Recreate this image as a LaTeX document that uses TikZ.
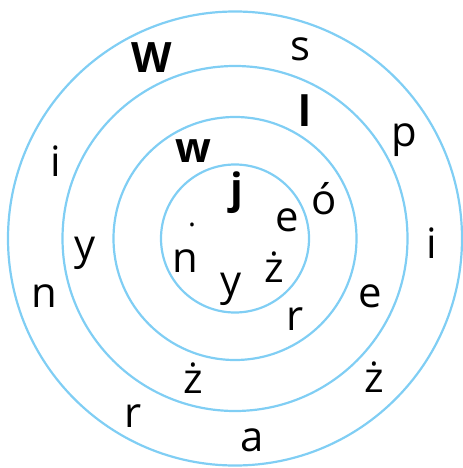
\documentclass[tikz,border=0pt]{standalone}
\usepackage{fontspec}
\setmainfont{Open Sans}
\definecolor{ringblue}{RGB}{128,206,244}
\tikzset{
    ring/.style = {
        draw=ringblue,
        line width=2.2bp
    },
    letter/.style = {
        inner sep=0pt,
        anchor=base,
        font=\fontsize{42}{42}\selectfont
    },
    bigletter/.style = {
        letter,
        font=\fontsize{42}{42}\selectfont\bfseries
    },
    dotmark/.style = {
        letter,
        font=\fontsize{30}{30}\selectfont
    }
}

\begin{document}
\begin{tikzpicture}[x=1bp, y=-1bp]
\useasboundingbox (0,0) rectangle (463,468);

% Srodek i okregi
\coordinate (srodek) at (235,238.5);
\draw [ring] (srodek) circle [radius=227bp];
\draw [ring] (srodek) circle [radius=172.5bp];
\draw [ring] (srodek) circle [radius=121.5bp];
\draw [ring] (srodek) circle [radius=74bp];

% Pierscien zewnetrzny
\node (zW) [bigletter] at (152,73) {W};
\node (zs) [letter] at (300,61) {s};
\node (zp) [letter] at (404,147) {p};
\node (zi1) [letter] at (432,258) {i};
\node (zz) [letter] at (374,392) {ż};
\node (za) [letter] at (252,451) {a};
\node (zr) [letter] at (133,427) {r};
\node (zn) [letter] at (44,307) {n};
\node (zi2) [letter] at (56,177) {i};

% Drugi pierscien
\node (dl) [bigletter] at (305,127) {l};
\node (de) [letter] at (370,307) {e};
\node (dz) [letter] at (193,393) {ż};
\node (dy) [letter] at (85,259) {y};

% Trzeci pierscien
\node (tw) [bigletter] at (193,163) {w};
\node (to) [letter] at (324,215) {ó};
\node (tr) [letter] at (295,330) {r};

% Kolo srodkowe
\node (sj) [bigletter] at (237,204) {j};
\node (se) [letter] at (287,232) {e};
\node (sz) [letter] at (274,282) {ż};
\node (sy) [letter] at (231,295) {y};
\node (sn) [letter] at (185,272) {n};
\node (skropka) [dotmark] at (192,227) {.};

\end{tikzpicture}
\end{document}
